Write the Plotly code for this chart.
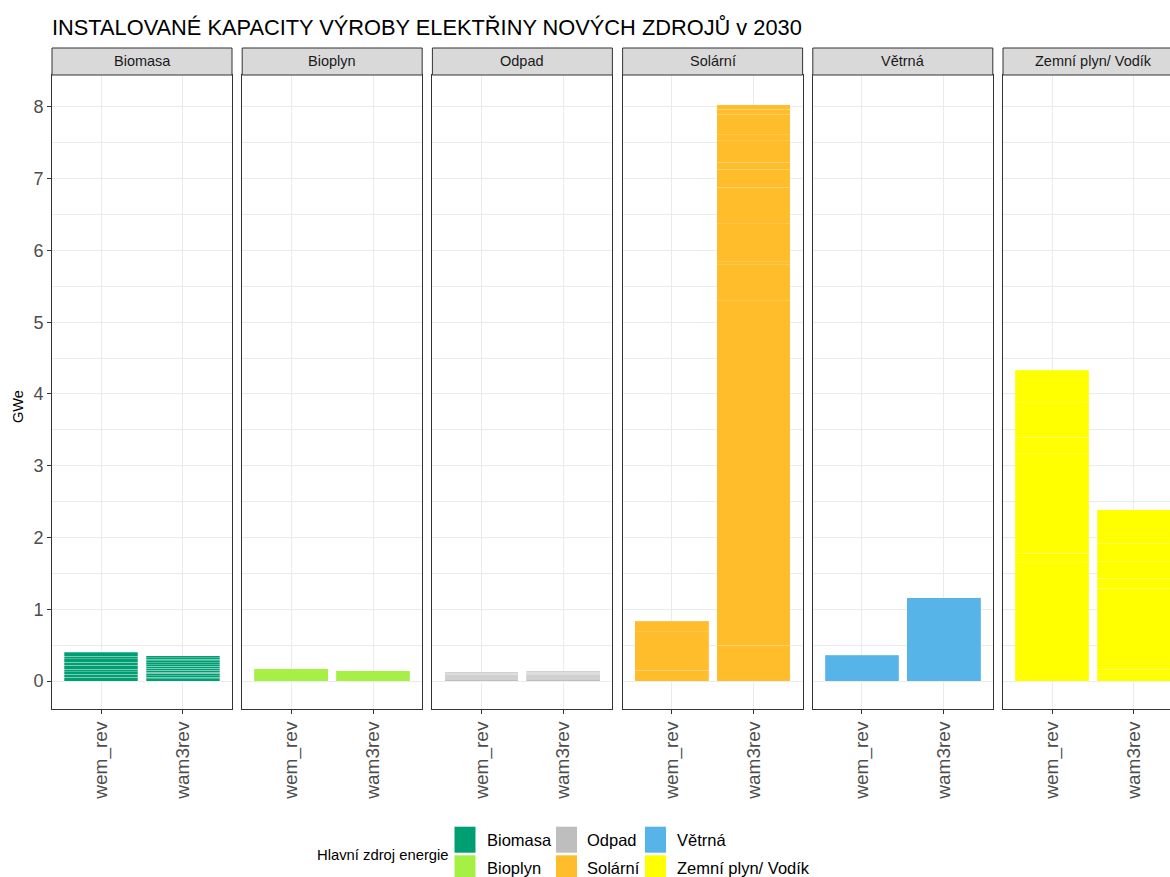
import plotly.graph_objects as go

# --- data (GWe), each bar is a stack of individual plant units ---
sources = ["Biomasa", "Bioplyn", "Odpad", "Solární", "Větrná", "Zemní plyn/ Vodík"]
scenarios = ["wem_rev", "wam3rev"]
colors = ["#009E73", "#A6F045", "#BEBEBE", "#FFBC2B", "#56B4E9", "#FFFF00"]

biomasa_wem = [0.052, 0.041, 0.037, 0.037, 0.052, 0.046, 0.042, 0.041, 0.052]
biomasa_wam3 = [0.030, 0.020, 0.025, 0.030, 0.020, 0.025, 0.030,
                0.025, 0.020, 0.030, 0.025, 0.025, 0.020, 0.025]
bioplyn_wem = [0.172]
bioplyn_wam3 = [0.144]
odpad_wem = [0.015, 0.016, 0.014, 0.016, 0.015, 0.015, 0.016, 0.014]
odpad_wam3 = [0.015, 0.016, 0.014, 0.015, 0.015, 0.016, 0.014, 0.015, 0.015]
solar_wem = [0.153, 0.534, 0.149]
solar_wam3 = [0.50, 4.80, 0.50, 0.04, 0.53, 0.51, 0.25, 0.10, 0.30, 0.08, 0.29, 0.07, 0.06]
vetrna_wem = [0.362]
vetrna_wam3 = [1.161]
plyn_wem = [1.65, 0.13, 1.39, 0.23, 0.48, 0.45]
plyn_wam3 = [0.084, 0.079, 1.127, 0.14, 0.23, 0.26, 0.47]

units_wem = [biomasa_wem, bioplyn_wem, odpad_wem, solar_wem, vetrna_wem, plyn_wem]
units_wam3 = [biomasa_wam3, bioplyn_wam3, odpad_wam3, solar_wam3, vetrna_wam3, plyn_wam3]

y_ticks = [0, 1, 2, 3, 4, 5, 6, 7, 8]

# --- layout geometry (pixels) ---
W, H = 1170, 877
ML, MT, MB = 52, 75, 168
PW = W - ML
PH = H - MT - MB
panel_w, panel_step = 180, 190.2
strip_h = 27
FONT = "Liberation Sans, Arial, sans-serif"


def px_x(px):
    return (px - ML) / PW


def px_y(py):
    return (H - MB - py) / PH


fig = go.Figure()
shapes, annotations = [], []

for i, src in enumerate(sources):
    n = i + 1
    xa = "x" if n == 1 else f"x{n}"
    ya = "y" if n == 1 else f"y{n}"
    # biomass units show clearly striped, the others only faint seams
    seam = "rgba(255,255,255,0.35)" if i in (0, 2) else "rgba(255,255,255,0.22)"
    for scen, stacks in zip(scenarios, (units_wem[i], units_wam3[i])):
        for val in stacks:
            fig.add_trace(go.Bar(
                x=[scen], y=[val], xaxis=xa, yaxis=ya, width=0.9,
                marker=dict(color=colors[i], line=dict(color=seam, width=0.8)),
                showlegend=False, hoverinfo="skip",
            ))

    left = ML + panel_step * i
    right = left + panel_w
    last = n == len(sources)
    d0 = px_x(left)
    d1 = 1.0 if last else px_x(right)
    x_hi = 1.6 if not last else -0.6 + (W - left) / (panel_w / 2.2)

    fig.update_layout(**{
        ("xaxis" if n == 1 else f"xaxis{n}"): dict(
            domain=[d0, d1], anchor=ya, type="category",
            categoryorder="array", categoryarray=scenarios,
            range=[-0.6, x_hi], showgrid=True, gridcolor="#EBEBEB", gridwidth=1.1,
            showline=True, linecolor="#333333", linewidth=1, mirror=True,
            ticks="outside", ticklen=4, tickcolor="#333333", tickangle=-90,
            tickfont=dict(size=19, color="#4D4D4D", family=FONT),
            zeroline=False, fixedrange=True,
        ),
        ("yaxis" if n == 1 else f"yaxis{n}"): dict(
            domain=[0, 1], anchor=xa, range=[-0.39, 8.445],
            tickvals=y_ticks, showgrid=True, gridcolor="#EBEBEB", gridwidth=1.1,
            minor=dict(dtick=0.5, showgrid=True, gridcolor="#EBEBEB", gridwidth=0.55, ticks=""),
            showline=True, linecolor="#333333", linewidth=1, mirror=not last,
            ticks="outside" if n == 1 else "", ticklen=4, tickcolor="#333333",
            showticklabels=n == 1,
            tickfont=dict(size=18, color="#4D4D4D", family=FONT),
            zeroline=False, fixedrange=True,
        ),
    })

    # facet strip
    shapes.append(dict(type="rect", xref="paper", yref="paper",
                       x0=px_x(left), x1=px_x(right), y0=1, y1=1 + strip_h / PH,
                       fillcolor="#D9D9D9", line=dict(color="#333333", width=1)))
    annotations.append(dict(text=src, xref="paper", yref="paper",
                            x=px_x((left + right) / 2), y=1 + strip_h / PH / 2,
                            showarrow=False, xanchor="center", yanchor="middle",
                            font=dict(size=14.5, color="#1A1A1A", family=FONT)))

# y axis title
annotations.append(dict(text="GWe", xref="paper", yref="paper",
                        x=px_x(18), y=px_y(407), textangle=-90, showarrow=False,
                        xanchor="center", yanchor="middle",
                        font=dict(size=14.5, color="black", family=FONT)))

# legend (2 rows, filled by column)
annotations.append(dict(text="Hlavní zdroj energie", xref="paper", yref="paper",
                        x=px_x(315), y=px_y(855), showarrow=False,
                        xanchor="left", yanchor="middle",
                        font=dict(size=14.8, color="black", family=FONT)))
key_x = [454.5, 556, 645]
lab_x = [485, 585, 675]
key_y = [826.7, 855.3]
for j, src in enumerate(sources):
    c, r = j // 2, j % 2
    shapes.append(dict(type="rect", xref="paper", yref="paper",
                       x0=px_x(key_x[c]), x1=px_x(key_x[c] + 21),
                       y0=px_y(key_y[r] + 26), y1=px_y(key_y[r]),
                       fillcolor=colors[j], line=dict(width=0)))
    annotations.append(dict(text=src, xref="paper", yref="paper",
                            x=px_x(lab_x[c]), y=px_y(key_y[r] + 13), showarrow=False,
                            xanchor="left", yanchor="middle",
                            font=dict(size=16.5, color="black", family=FONT)))

fig.update_layout(
    width=W, height=H,
    margin=dict(l=ML, r=0, t=MT, b=MB, pad=0),
    barmode="stack",
    plot_bgcolor="white", paper_bgcolor="white",
    font=dict(family=FONT, color="black"),
    title=dict(text="INSTALOVANÉ KAPACITY VÝROBY ELEKTŘINY NOVÝCH ZDROJŮ v 2030",
               x=ML / W, xanchor="left", y=1 - 27 / H, yanchor="middle",
               font=dict(size=21.8, color="black", family=FONT)),
    shapes=shapes, annotations=annotations,
    showlegend=False,
)

fig.write_html("out.html", config={"displayModeBar": False},
               post_script="document.body.style.margin='0';")
